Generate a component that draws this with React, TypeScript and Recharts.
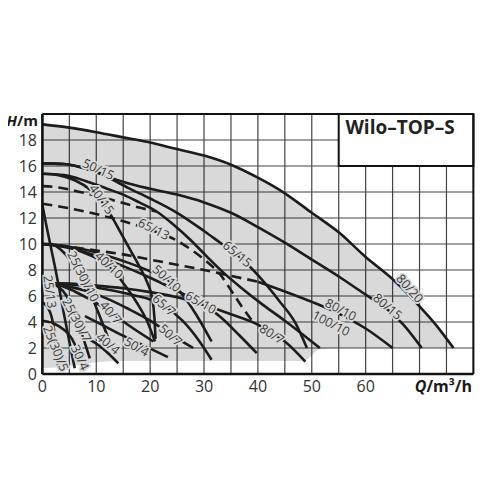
import React from 'react';
import {
  ComposedChart, Line, Area, Scatter, XAxis, YAxis, CartesianGrid,
  ReferenceArea, ReferenceLine,
} from 'recharts';

type P = [number, number][];

// Pump curves, Q (m³/h) vs H (m)
const c80_20: P = [[0,19.2],[5,18.95],[10,18.6],[15,18.2],[20,17.8],[25,17.3],[30,16.8],[35,16.1],[40,15.1],[45,13.9],[50,12.4],[55,10.9],[60,9.0],[65,7.3],[70,5.2],[73,3.8],[76.3,2.0]];
const c80_15: P = [[0,16.2],[4,16.15],[8,15.8],[12,15.2],[16,14.65],[20,14.25],[25,13.8],[30,13.2],[35,12.4],[40,11.3],[45,10.1],[50,8.8],[55,7.5],[60,6.1],[64.1,4.95],[67,3.8],[70.4,2.0]];
const c65_15: P = [[0,16.2],[4,16.15],[8,15.8],[10.4,15.5],[13,14.95],[16,14.3],[20,13.5],[25,12.4],[30,11.0],[33,10.1],[36.2,9.15],[40,7.6],[44,5.6],[47,3.9],[49.1,2.0]];
const c50_15: P = [[0,15.4],[4,15.3],[8,14.85],[12,14.25],[15,13.8],[18,13.2],[21.2,12.5],[24.3,11.5],[27.4,10.35],[30.5,9.05],[33.6,7.8],[37,6.6],[41,5.3],[45,4.1],[51.5,2.0]];
const c40_15: P = [[0,15.4],[3,15.3],[6,14.9],[8.8,14.2],[11,13.3],[12.6,12.3],[14.5,10.9],[16.5,9.4],[18.1,8.2],[19.5,7.0],[20.4,5.8],[20.8,4.3],[21.0,2.7]];
const d50_15: P = [[0,14.45],[3,14.35],[6,14.1],[9,13.8],[12,13.5],[15,13.15],[18,12.8],[21.2,12.5]];
const d65_13: P = [[0,13.1],[5,12.75],[10,12.3],[15,11.75],[20,11.1],[25,10.25],[28,9.45],[30.5,8.65],[33,7.65],[35,6.45],[37,5.2],[39.1,4.0]];
const d80_10: P = [[0,10.0],[5,9.8],[10,9.5],[15,9.2],[20,8.8],[25,8.4],[30,8.0],[35,7.55],[40,7.1]];
const c80_10: P = [[40,7.1],[45,6.35],[50,5.55],[55,4.65],[60,3.5],[65,2.0]];
const c80_7: P = [[0,7.0],[5,6.95],[10,6.8],[15,6.6],[20,6.3],[25,5.9],[30,5.3],[35,4.6],[40,3.8],[42.6,3.15],[45,2.5],[48.8,0.95]];
const c65_10: P = [[0,10.0],[5,9.7],[10,9.1],[15,8.3],[20,7.4],[25,6.4],[29.4,5.45],[33,4.4],[36.5,3.0],[39.8,1.6]];
const c50_10: P = [[0,10.0],[4,9.85],[8,9.55],[12,9.1],[16,8.55],[20,7.9],[23.1,7.3],[26,6.1],[28.5,4.6],[31.4,2.5]];
const c65_7: P = [[0,7.0],[4,6.95],[8,6.75],[12,6.5],[16,6.15],[19.5,5.8],[22.6,5.25],[26,4.1],[29,2.6],[31.4,1.1]];
const c50_7: P = [[0,7.0],[4,6.8],[8,6.4],[12,5.8],[16,5.0],[20,4.1],[23.8,3.05],[28,2.0]];
const c40_7: P = [[0,7.0],[3,6.85],[6,6.35],[9,5.7],[12.7,4.75],[16,3.75],[20.6,2.5]];
const c40_10: P = [[0,10.0],[3,9.9],[6,9.6],[9,9.1],[12.4,8.3],[15,7.0],[17.5,5.5],[19.5,4.0],[20.9,2.5]];
const c25_10: P = [[0,10.0],[1.5,10.0],[3,9.7],[4.5,9.1],[6,8.3],[7.6,7.35],[9,6.1],[10.5,4.6],[12,3.0],[13,1.9]];
const c25_7: P = [[0,7.0],[1.5,6.95],[3,6.7],[4.5,6.0],[5.5,5.1],[6.4,4.2],[7.3,3.1],[8.1,2.1],[8.8,1.2]];
const c30_4: P = [[0,4.1],[2,3.9],[4,3.4],[5.5,2.7],[6.4,1.9],[7.0,1.25],[7.6,0.5]];
const c25_5: P = [[0,5.5],[1,5.1],[1.7,4.4],[2.2,3.3],[2.5,2.0],[2.8,1.0],[3.0,0.45]];
const c25_13: P = [[0,13.0],[0.7,11.5],[1.4,10.1],[2.3,8.3],[3.2,6.4],[4.1,4.4],[5.0,2.5],[6.0,0.45]];
const c40_4: P = [[8.8,2.65],[10.5,2.2],[12.2,1.6],[14.1,0.82]];
const c50_4: P = [[7.9,4.45],[11,3.8],[14,3.15],[17.5,2.45],[20.5,1.85],[23.3,1.3]];

const solidCurves: P[] = [c80_20, c80_15, c65_15, c50_15, c40_15, c80_10, c80_7, c65_10, c50_10, c65_7, c50_7, c40_7, c40_10, c25_10, c25_7, c30_4, c25_5, c25_13, c40_4, c50_4];
const dashedCurves: P[] = [d50_15, d65_13, d80_10];

// Grey operating envelope
const envX = [0, 5, 10, 15, 20, 25, 30, 35, 40, 45, 48.5, 51.5, 55, 60, 65, 70, 73, 76.3];
const envHigh = [19.2, 18.95, 18.6, 18.2, 17.8, 17.3, 16.8, 16.1, 15.1, 13.9, 12.85, 11.95, 10.9, 9.0, 7.3, 5.2, 3.8, 2.0];
const envLow = [0.45, 0.6, 0.9, 1.0, 1.0, 1.0, 1.0, 1.0, 1.0, 1.0, 1.0, 1.9, 2.0, 2.0, 2.0, 2.0, 2.0, 2.0];

// Curve labels
const labelText = ['80/20','80/15','80/10','100/10','80/7','65/15','65/13','50/15','40/15','40/10','25(30)/10','50/10','65/10','65/7','50/7','40/7','25(30)/7','40/4','50/4','25/13','25(30)/5','30/4'];
const labelX = [68.2,64.1,55.4,53.6,42.6,36.2,20.7,10.4,11.0,12.4,7.6,23.1,29.4,22.6,23.8,12.7,6.4,12.2,17.5,1.4,2.5,7.0];
const labelY = [6.58,5.19,4.95,3.9,3.08,9.23,11.15,15.75,13.45,8.38,7.5,7.36,5.5,5.3,3.0,4.73,4.15,2.35,2.1,6.33,1.98,1.27];
const labelAngle = [48,40,28,28,33,40,27,25,55,43,63,42,30,42,42,50,62,40,30,82,68,65];

const xTicks = [0,5,10,15,20,25,30,35,40,45,50,55,60,65,70,75,80];
const yTicks = [0,2,4,6,8,10,12,14,16,18,20];

const toData = (p: P) => p.map(([x, y]) => ({ x, y }));
const envData = envX.map((x, i) => ({ x, r: [envLow[i], envHigh[i]] }));
const labelData = labelText.map((t, i) => ({ x: labelX[i], y: labelY[i], t, a: labelAngle[i] }));

const FONT = '"Open Sans", "DejaVu Sans", sans-serif';
const LINE = '#1c1c1c';

const LabelShape = (props: any) => {
  const { cx, cy, payload } = props;
  if (cx == null || cy == null) return null;
  return (
    <text
      x={cx}
      y={cy}
      transform={`rotate(${payload.a}, ${cx}, ${cy})`}
      textAnchor="middle"
      dominantBaseline="central"
      fontFamily={FONT}
      fontSize={12.5}
      fill="#3a3a3a"
      stroke="#d9d9d9"
      strokeWidth={3.5}
      paintOrder="stroke"
    >
      {payload.t}
    </text>
  );
};

export default function App() {
  return (
    <div style={{ position: 'relative', left: -8, top: -8, width: 500, height: 420 }}>
      <ComposedChart
        width={500}
        height={420}
        margin={{ top: 114, right: 26.6, bottom: 16, left: 12.4 }}
      >
        <CartesianGrid stroke="#454545" strokeWidth={1.2} horizontalValues={yTicks} verticalValues={xTicks} />
        <XAxis
          type="number"
          dataKey="x"
          domain={[0, 80]}
          ticks={xTicks}
          interval={0}
          allowDataOverflow
          tickLine={false}
          tickSize={0}
          tickMargin={6.3}
          height={30}
          axisLine={{ stroke: '#111', strokeWidth: 2.6 }}
          tick={{ fill: '#333', fontSize: 16, fontFamily: FONT }}
          tickFormatter={(v: number) => (v % 10 === 0 && v <= 60 ? String(v) : '')}
        />
        <YAxis
          type="number"
          dataKey="y"
          domain={[0, 20]}
          ticks={yTicks}
          interval={0}
          allowDataOverflow
          tickLine={false}
          tickSize={0}
          tickMargin={5.4}
          width={30}
          axisLine={{ stroke: '#111', strokeWidth: 2.6 }}
          tick={{ fill: '#333', fontSize: 16, fontFamily: FONT }}
          tickFormatter={(v: number) => (v === 20 ? '' : String(v))}
        />
        <Area
          data={envData}
          dataKey="r"
          type="monotone"
          stroke="none"
          fill="#000"
          fillOpacity={0.15}
          isAnimationActive={false}
          dot={false}
          activeDot={false}
        />
        <ReferenceLine x={80} stroke="#111" strokeWidth={2} />
        <ReferenceLine y={20} stroke="#111" strokeWidth={2} />
        <ReferenceArea x1={55} x2={80} y1={16} y2={20} fill="#fff" fillOpacity={1} stroke="#111" strokeWidth={2} />
        {dashedCurves.map((p, i) => (
          <Line
            key={'d' + i}
            data={toData(p)}
            dataKey="y"
            type="monotone"
            stroke={LINE}
            strokeWidth={2.6}
            strokeDasharray="10 6"
            dot={false}
            activeDot={false}
            isAnimationActive={false}
          />
        ))}
        {solidCurves.map((p, i) => (
          <Line
            key={'s' + i}
            data={toData(p)}
            dataKey="y"
            type="monotone"
            stroke={LINE}
            strokeWidth={2.6}
            dot={false}
            activeDot={false}
            isAnimationActive={false}
          />
        ))}
        <Scatter data={labelData} dataKey="y" shape={LabelShape} isAnimationActive={false} />
        <text x={6.5} y={125.5} fontFamily={FONT} fontWeight={700} fontSize={15} fill="#1a1a1a">
          <tspan fontStyle="italic">H</tspan>/m
        </text>
        <text x={472} y={392} textAnchor="end" fontFamily={FONT} fontWeight={700} fontSize={16} fill="#1a1a1a">
          <tspan fontStyle="italic">Q</tspan>/m³/h
        </text>
      </ComposedChart>
      <svg
        width={500}
        height={420}
        style={{ position: 'absolute', left: 0, top: 0, pointerEvents: 'none' }}
      >
        <text x={345.5} y={134.3} fontFamily={FONT} fontWeight={700} fontSize={19} fill="#222">
          Wilo–TOP–S
        </text>
      </svg>
    </div>
  );
}
